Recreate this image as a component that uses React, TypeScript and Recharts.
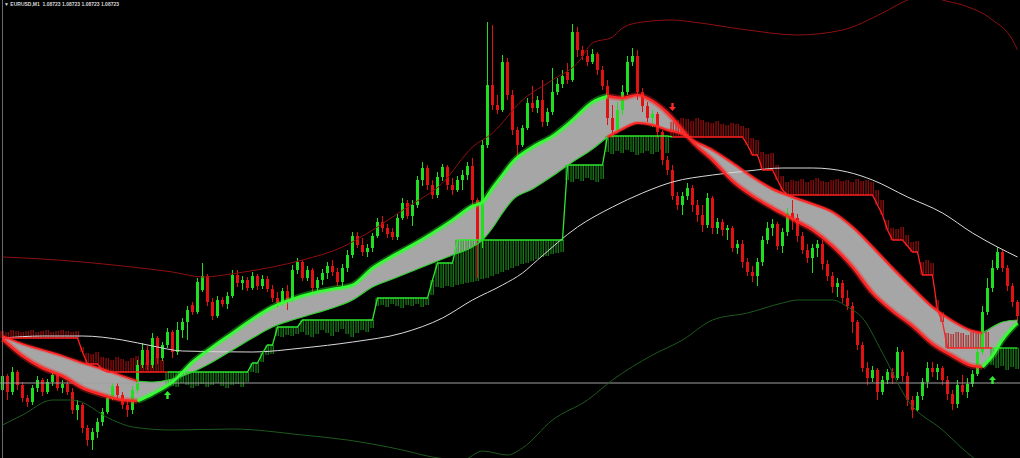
import React from 'react';
import { ComposedChart, XAxis, YAxis, Line, Area, Bar, ReferenceLine } from 'recharts';

// ---- Price levels are in points (0.00001) above 1.08600 ----
const title = 'EURUSD,M1  1.08723 1.08723 1.08723 1.08723';
const bidLevel = 117;

// Candles (one per bar index)
const candleOpen = [
  110,124,108,128,115,102,98,112,120,108, 118,125,112,116,108,90,95,72,60,68,
  78,88,102,114,105,95,90,110,135,150, 135,162,142,155,168,148,170,178,195,188,
  210,224,198,184,200,196,204,225,217,220, 212,224,214,221,211,202,197,209,200,230,
  238,222,230,212,220,227,234,228,218,232, 245,264,255,248,252,264,278,272,268,263,
  282,297,284,295,320,332,315,305,323,333, 315,310,320,325,334,300,260,355,415,395,
  390,438,405,370,355,372,397,392,400,378, 388,408,416,428,420,468,450,444,438,446,
  430,414,382,370,390,408,438,444,408,394, 382,386,368,340,330,304,295,304,312,295,
  285,275,302,272,278,270,272,252,256,238, 228,224,238,260,272,276,254,268,287,282,
  264,250,242,252,256,236,224,213,217,202, 194,178,155,132,122,130,108,120,128,122,
  148,124,100,90,104,118,132,128,132,120, 106,96,115,108,116,126,148,188,212,232,
  248,232,214,198,
];
const candleClose = [
  124,108,128,115,102,98,112,120,108,118, 125,112,116,108,90,95,72,60,68,78,
  88,102,114,105,95,90,110,135,150,135, 162,142,155,168,148,170,178,190,188,218,
  224,198,184,200,196,204,225,217,220,212, 224,214,221,211,202,197,209,200,230,238,
  222,230,212,220,227,234,228,218,232,245, 264,255,248,252,264,278,272,266,263,282,
  297,284,295,320,332,315,305,323,333,315, 310,320,325,334,300,260,355,415,395,390,
  438,405,370,355,372,397,392,400,378,388, 408,416,424,420,468,450,444,438,446,430,
  414,382,370,390,408,438,444,408,394,382, 386,368,340,330,304,295,304,312,295,285,
  275,302,272,278,270,272,252,256,238,228, 224,238,260,272,276,254,268,287,282,264,
  250,242,252,256,236,224,213,217,202,194, 178,155,132,122,130,108,120,128,122,148,
  124,100,90,104,118,132,128,132,120,106, 96,115,108,116,126,148,188,212,232,248,
  232,214,198,184,
];
const candleHigh = [
  130,126,133,130,118,105,115,124,122,121, 128,127,120,119,112,100,97,75,72,82,
  92,106,117,117,108,100,114,140,157,154, 167,164,158,172,170,178,182,194,198,222,
  237,226,202,204,203,208,230,230,224,223, 228,226,225,224,215,208,212,215,235,242,
  240,234,232,223,231,238,240,232,236,250, 268,268,262,256,267,282,284,276,272,286,
  302,300,300,324,338,335,320,328,336,335, 322,324,330,338,342,302,360,478,475,405,
  445,442,410,373,375,402,414,404,420,392, 432,422,430,437,476,473,454,450,451,448,
  434,420,395,398,415,444,452,450,412,398, 390,388,370,344,335,308,308,317,315,300,
  295,307,304,282,281,275,274,260,260,242, 234,242,264,278,281,278,272,292,300,286,
  268,256,256,260,260,240,228,222,220,210, 198,180,158,138,134,132,124,131,132,153,
  150,128,104,108,122,138,138,136,134,124, 110,120,125,122,130,154,194,222,240,253,
  250,235,217,200,
];
const candleLow = [
  105,100,105,110,98,93,95,108,104,106, 114,109,107,105,86,80,67,54,50,62,
  74,86,100,102,91,83,86,107,132,130, 132,136,139,152,142,145,162,160,185,186,
  208,194,180,182,193,191,202,213,210,209, 210,210,211,208,198,193,195,190,198,226,
  219,219,207,209,215,221,224,214,213,228, 242,252,244,243,248,262,268,262,260,260,
  280,281,274,292,314,310,301,302,319,310, 305,308,310,320,295,222,252,352,390,386,
  388,400,365,343,353,370,388,387,373,374, 385,405,412,416,418,443,440,434,436,425,
  410,375,362,367,385,405,434,400,388,378, 373,362,335,325,300,290,285,300,288,278,
  268,272,266,266,264,260,248,246,232,224, 218,214,234,256,264,250,247,264,270,258,
  246,237,227,243,230,219,207,203,197,190, 167,150,128,115,118,100,105,116,116,120,
  118,94,82,88,100,112,123,120,115,100, 90,92,105,102,113,124,145,185,208,230,
  228,209,193,179,
];

// Trailing stop step line and its hatch (one value per bar)
const stepLevel = [
  162,162,162,162,162,162,162,162,162,162, 162,162,162,162,162,162,148,136,136,136,
  130,128,128,128,128,128,128,128,128,128, 128,128,128,128,128,128,128,128,128,128,
  128,128,128,128,128,128,128,128,128,128, 137,137,147,155,155,173,173,173,173,173,
  180,180,180,180,180,180,180,180,180,180, 180,180,180,180,180,202,202,202,202,202,
  202,202,202,202,202,202,220,237,237,237, 237,260,260,260,260,260,260,260,260,260,
  260,260,260,260,260,260,260,260,260,260, 260,260,260,335,335,335,335,335,335,335,
  335,364,364,364,364,364,364,364,364,364, 364,364,364,364,363,363,363,363,363,363,
  363,363,363,363,363,363,363,363,363,355, 345,345,330,330,330,320,310,305,305,305,
  305,305,305,305,305,305,305,305,305,305, 305,305,305,305,305,295,285,270,260,260,
  260,254,248,248,225,225,225,190,178,152, 152,152,152,152,152,152,152,152,152,152,
  152,152,152,152,
];
const hatchEnd = [
  169,168,170,169,168,169,170,168,169,170, 168,169,170,169,168,169,153,147,146,148,
  143,142,140,143,141,139,142,144,140,138, 141,143,140,116,114,113,117,115,112,114,
  116,113,115,117,114,112,115,116,113,118, 128,127,138,145,146,164,163,165,164,166,
  168,165,163,166,170,167,164,168,171,166, 163,167,170,168,172,194,195,193,196,194,
  192,195,194,196,193,195,205,213,212,214, 213,215,216,217,218,219,221,222,224,226,
  228,230,232,234,236,237,239,241,243,244, 246,247,248,320,318,321,319,322,320,318,
  321,348,346,349,347,350,348,345,347,349, 346,348,350,347,378,380,382,381,379,382,
  380,378,377,379,376,375,377,376,374,372, 362,360,348,346,347,335,324,318,320,319,
  321,318,320,322,319,318,320,321,319,320, 318,321,319,320,318,310,300,280,272,271,
  273,265,258,259,238,240,237,200,188,167, 166,168,167,165,168,167,166,168,135,132,
  134,130,133,131,
];
const stepSwitch = [33, 134, 198];

// Fast / slow moving-average ribbon
const bandIdx = [0,4,8,12,16,20,24,27,30,34,38,42,46,50,54,58,62,66,70,74,78,82,86,90,94,96,98,100,102,106,110,114,118,121,124,127,130,133,136,138,142,146,150,154,158,162,166,170,174,178,182,186,190,194,196,198,200,203];
const slowMA = [164,156,150,144,137,131,124,119,118,121,128,138,150,162,173,180,186,192,200,213,221,229,237,245,253,260,272,287,300,311,324,338,351,363,371,377,375,370,366,360,350,337,323,311,303,296,288,273,253,232,212,193,179,169,167,173,178,180];
const fastMA = [161,144,132,124,112,105,100,99,106,118,138,153,167,181,193,201,207,211,215,232,244,255,267,280,294,298,312,325,338,353,364,380,398,404,402,405,399,387,370,358,340,319,304,292,281,270,254,233,207,189,174,156,144,134,133,144,160,177];
const bandSwitch = [27, 121, 196];

// Long moving average (white)
const longMaIdx = [0,8,16,24,30,36,50,60,70,80,88,94,100,104,107,115,122,128,134,142,149,156,162,169,174,181,188,194,199,203];
const longMA = [162,164,164,160,154,149,148,152,158,167,182,200,215,227,240,273,293,307,318,325,329,332,332,328,320,303,287,267,253,243];

// Envelope bands
const upperEnvIdx = [0,8,16,24,34,40,47,54,60,68,74,81,88,94,98,104,110,115,118,122,124,128,134,138,149,159,168,176,181,185,188,192,198,202,203];
const upperEnv = [243,241,238,234,228,223,227,233,240,253,270,293,317,353,367,400,420,437,457,463,472,478,480,478,470,465,470,487,500,506,500,495,480,460,450];
const lowerEnvIdx = [0,4,10,14,22,26,34,46,60,69,80,86,92,96,101,104,110,117,122,130,136,142,149,156,159,166,169,172,176,181,188,194,198];
const lowerEnv = [75,85,100,100,80,73,70,71,65,60,50,43,40,49,45,52,80,100,120,145,160,180,187,197,200,200,193,182,147,100,70,43,30];

// Signal arrows
const arrowUpIdx = [33, 198];
const arrowUpLevel = [105, 120];
const arrowDownIdx = [134];
const arrowDownLevel = [393];

// ---- colours ----
const C_RED = '#ff2626';
const C_GREEN = '#33ff33';
const C_CANDLE_UP = '#1fe01f';
const C_CANDLE_DN = '#e01212';
const C_HATCH_UP = '#1f9a1f';
const C_HATCH_DN = '#b31010';
const C_STEP_UP = '#2ee62e';
const C_STEP_DN = '#ff2020';
const segColors = [C_RED, C_GREEN, C_RED, C_GREEN];
const slowColors = [C_RED, '#2fcf2f', C_RED, '#2fcf2f'];
const slowWidths = [1.8, 1.2, 2, 1.2];
const slowGlow = [0.25, 0, 0.3, 0];
const stepColors = [C_STEP_DN, C_STEP_UP, C_STEP_DN, C_STEP_UP];

const N = candleOpen.length;

function segBounds(switches: number[]) {
  const starts = [0, ...switches];
  const ends = [...switches, N - 1];
  return starts.map((s, k) => [s, ends[k]]);
}
const stepSegs = segBounds(stepSwitch);
const bandSegs = segBounds(bandSwitch);

const rows: Record<string, any>[] = candleOpen.map((o, i) => {
  const trendSeg = stepSwitch.filter((s) => s <= i).length;
  const row: Record<string, any> = {
    i,
    o,
    c: candleClose[i],
    h: candleHigh[i],
    l: candleLow[i],
    range: [candleLow[i], candleHigh[i]],
    hatch: [Math.min(stepLevel[i], hatchEnd[i]), Math.max(stepLevel[i], hatchEnd[i])],
    hatchUp: trendSeg % 2 === 1,
  };
  stepSegs.forEach(([a, b], s) => {
    if (i >= a && i <= b) row[`step${s}`] = stepLevel[i];
  });
  return row;
});

bandIdx.forEach((b, k) => {
  rows[b].band = [slowMA[k], fastMA[k]];
  bandSegs.forEach(([a, e], s) => {
    if (b >= a && b <= e) {
      rows[b][`slow${s}`] = slowMA[k];
      rows[b][`fast${s}`] = fastMA[k];
    }
  });
});
longMaIdx.forEach((b, k) => { rows[b].longMA = longMA[k]; });
upperEnvIdx.forEach((b, k) => { rows[b].upperEnv = upperEnv[k]; });
lowerEnvIdx.forEach((b, k) => { rows[b].lowerEnv = lowerEnv[k]; });
arrowUpIdx.forEach((b, k) => { rows[b].arrowUp = arrowUpLevel[k]; });
arrowDownIdx.forEach((b, k) => { rows[b].arrowDown = arrowDownLevel[k]; });

const CandleShape = (props: any) => {
  const { x, y, width, height } = props;
  const p = props.payload ?? props;
  if (p == null || y == null || isNaN(y)) return <g />;
  const { o, c, h, l } = p;
  const span = h - l || 1;
  const yAt = (v: number) => y + ((h - v) / span) * height;
  const top = yAt(Math.max(o, c));
  const bot = yAt(Math.min(o, c));
  const color = c >= o ? C_CANDLE_UP : C_CANDLE_DN;
  const cx = x + width / 2;
  return (
    <g>
      <line x1={cx} x2={cx} y1={y} y2={y + height} stroke={color} strokeWidth={1} />
      <rect x={x} y={top} width={width} height={Math.max(1, bot - top)} fill={color} />
    </g>
  );
};

const HatchShape = (props: any) => {
  const { x, y, width, height } = props;
  const p = props.payload ?? props;
  if (y == null || isNaN(y)) return <g />;
  const color = p.hatchUp ? C_HATCH_UP : C_HATCH_DN;
  return (
    <g>
      <rect x={x + 0.5} y={y} width={1} height={Math.max(0, height)} fill={color} />
      <rect x={x + width / 2 + 0.5} y={y} width={1} height={Math.max(0, height)} fill={color} />
    </g>
  );
};

const makeArrow = (up: boolean, color: string) => (props: any) => {
  const { cx, cy, value, index } = props;
  if (value == null || cy == null || isNaN(cy)) return <g key={`n${index}`} />;
  const s = up ? 1 : -1;
  const d = `M${cx},${cy - 4 * s} L${cx + 3.5},${cy} L${cx + 1.2},${cy} L${cx + 1.2},${cy + 4 * s} L${cx - 1.2},${cy + 4 * s} L${cx - 1.2},${cy} L${cx - 3.5},${cy} Z`;
  return <path key={`a${index}`} d={d} fill={color} />;
};
const UpArrow = makeArrow(true, '#2ef02e');
const DownArrow = makeArrow(false, '#ff2a2a');

const common = { xAxisId: 'a', yAxisId: 'y', isAnimationActive: false, dot: false, activeDot: false } as const;

export default function App() {
  return (
    <div style={{ position: 'absolute', left: 0, top: 0, width: 1020, height: 458, background: '#000', overflow: 'hidden' }}>
      <ComposedChart
        width={1020}
        height={458}
        data={rows}
        margin={{ top: 0, right: 0, bottom: 0, left: 0 }}
        barCategoryGap={0}
        barGap={0}
      >
        <XAxis xAxisId="a" dataKey="i" type="category" scale="band" hide />
        <XAxis xAxisId="h" dataKey="i" type="category" scale="band" hide />
        <XAxis xAxisId="c" dataKey="i" type="category" scale="band" hide />
        <YAxis yAxisId="y" type="number" domain={[42, 500]} allowDataOverflow hide />

        <ReferenceLine xAxisId="a" yAxisId="y" x={0} stroke="#6a6a6a" strokeWidth={1} />
        <ReferenceLine xAxisId="a" yAxisId="y" y={bidLevel} stroke="#a0a0a0" strokeWidth={1} />

        <Line {...common} dataKey="upperEnv" type="monotone" connectNulls stroke="#8e1010" strokeWidth={1} />
        <Line {...common} dataKey="lowerEnv" type="monotone" connectNulls stroke="#1d5a1d" strokeWidth={1} />
        <Line {...common} dataKey="longMA" type="monotone" connectNulls stroke="#d9d9d9" strokeWidth={1} />

        <Area xAxisId="a" yAxisId="y" dataKey="band" type="monotone" connectNulls stroke="none" fill="#a6a6a6" fillOpacity={1} isAnimationActive={false} activeDot={false} />

        <Bar xAxisId="h" yAxisId="y" dataKey="hatch" barSize={5} shape={HatchShape} isAnimationActive={false} />

        {stepSegs.map((_, s) => (
          <Line key={`st${s}`} {...common} dataKey={`step${s}`} type="linear" stroke={stepColors[s]} strokeWidth={1.3} />
        ))}

        {bandSegs.map((_, s) => (
          <Line key={`sg${s}`} {...common} dataKey={`slow${s}`} type="monotone" connectNulls stroke={slowColors[s]} strokeOpacity={slowGlow[s]} strokeWidth={4} />
        ))}
        {bandSegs.map((_, s) => (
          <Line key={`fg${s}`} {...common} dataKey={`fast${s}`} type="monotone" connectNulls stroke={segColors[s]} strokeOpacity={0.35} strokeWidth={6} />
        ))}
        {bandSegs.map((_, s) => (
          <Line key={`sl${s}`} {...common} dataKey={`slow${s}`} type="monotone" connectNulls stroke={slowColors[s]} strokeWidth={slowWidths[s]} />
        ))}
        {bandSegs.map((_, s) => (
          <Line key={`fl${s}`} {...common} dataKey={`fast${s}`} type="monotone" connectNulls stroke={segColors[s]} strokeWidth={2.6} />
        ))}

        <Bar xAxisId="c" yAxisId="y" dataKey="range" barSize={3} shape={CandleShape} isAnimationActive={false} />

        <Line xAxisId="a" yAxisId="y" dataKey="arrowUp" stroke="none" isAnimationActive={false} dot={UpArrow} activeDot={false} />
        <Line xAxisId="a" yAxisId="y" dataKey="arrowDown" stroke="none" isAnimationActive={false} dot={DownArrow} activeDot={false} />
      </ComposedChart>
      <div
        style={{
          position: 'absolute',
          left: 4,
          top: 0,
          fontSize: 5,
          lineHeight: '8px',
          color: '#d6d6d6',
          fontFamily: '"Liberation Sans", sans-serif',
          fontWeight: 'bold',
          whiteSpace: 'pre',
        }}
      >
        {'\u25BC ' + title}
      </div>
    </div>
  );
}
